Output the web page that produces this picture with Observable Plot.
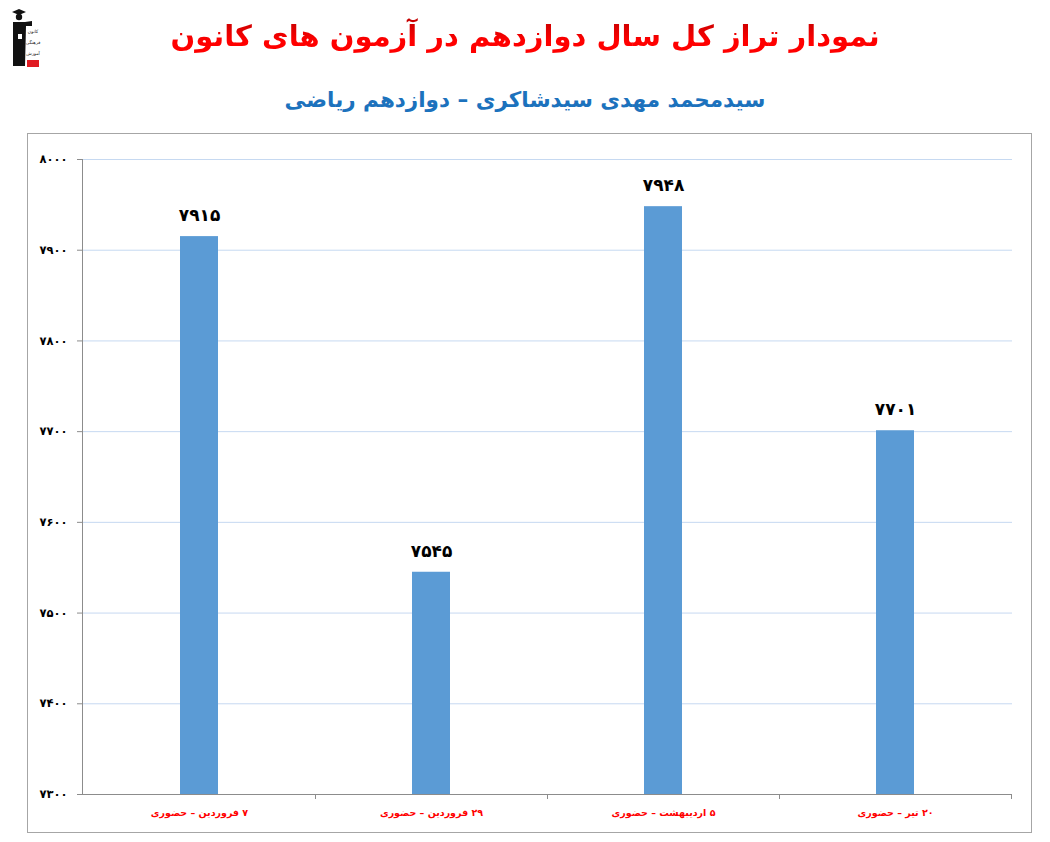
<!DOCTYPE html>
<html><head><meta charset="utf-8">
<script src="https://cdn.jsdelivr.net/npm/d3@7"></script>
<script src="https://cdn.jsdelivr.net/npm/@observablehq/plot@0.6"></script>
<style>
html,body{margin:0;padding:0;background:#fff;}
body{width:1050px;height:842px;position:relative;overflow:hidden;font-family:"DejaVu Sans",sans-serif;}
#title{position:absolute;left:0;top:12px;width:1050px;text-align:center;font-weight:bold;font-size:29px;line-height:48px;
  background:linear-gradient(#b00000,#ff0000 60%);-webkit-background-clip:text;background-clip:text;color:transparent;}
#subtitle{position:absolute;left:0;top:82px;width:1050px;text-align:center;font-weight:bold;font-size:21.5px;line-height:36px;color:#1c72bd;}
#frame{position:absolute;left:27px;top:133px;width:1003px;height:698px;border:1.5px solid #a6a6a6;}
#frame svg{position:absolute;left:0;top:0;}
#logo{position:absolute;left:10px;top:4px;overflow:visible;}
</style></head>
<body>
<svg id="logo" width="44" height="68" viewBox="0 0 44 68">
  <polygon points="2,8 9,5 16,8 9,11" fill="#111"/>
  <circle cx="9" cy="13" r="3.2" fill="#111"/>
  <path d="M3,18 L15,18 L22,17 L22,22 L16,22 L15,62 L3,62 Z" fill="#111"/>
  <rect x="8" y="30" width="4" height="5" fill="#fff"/>
  <text x="23" y="29" font-size="4.5" text-anchor="middle" fill="#222" font-family="DejaVu Sans">کانون</text>
  <text x="23" y="40" font-size="4.5" text-anchor="middle" fill="#222" font-family="DejaVu Sans">فرهنگی</text>
  <text x="23" y="51" font-size="4.5" text-anchor="middle" fill="#222" font-family="DejaVu Sans">آموزش</text>
  <rect x="17" y="56" width="12" height="7" fill="#e01b22"/>
</svg>
<div id="title" dir="rtl">نمودار تراز کل سال دوازدهم در آزمون های کانون</div>
<div id="subtitle" dir="rtl">سیدمحمد مهدی سیدشاکری – دوازدهم ریاضی</div>
<div id="frame"></div>
<script>
const categories = ["۷ فروردین – حضوری", "۲۹ فروردین – حضوری", "۵ اردیبهشت – حضوری", "۲۰ تیر – حضوری"];
const values = [7915, 7545, 7948, 7701];
const yTicks = [7300, 7400, 7500, 7600, 7700, 7800, 7900, 8000];

const faDigits = "۰۱۲۳۴۵۶۷۸۹";
const toFa = n => String(n).replace(/\d/g, d => faDigits[+d]);
const rtl = s => "\u202B" + s + "\u202C";
const data = categories.map((c, i) => ({cat: c, val: values[i]}));
const padInner = 0.837;

function bandTicks(index, scales, values, dimensions) {
  const {x, y} = scales;
  const step = x(categories[1]) - x(categories[0]);
  const bw = step * (1 - padInner);
  const g = d3.create("svg:g").attr("stroke", "#8c8c8c").attr("stroke-width", 1);
  g.append("line").attr("x1", dimensions.marginLeft + 0.5).attr("x2", dimensions.marginLeft + 0.5)
    .attr("y1", y(yTicks[yTicks.length - 1])).attr("y2", y(yTicks[0]));
  categories.forEach(c => {
    const xb = Math.round(x(c) + bw / 2 + step / 2) + 0.5;
    g.append("line").attr("x1", xb).attr("x2", xb).attr("y1", y(yTicks[0])).attr("y2", y(yTicks[0]) + 5);
  });
  return g.node();
}

const chart = Plot.plot({
  width: 1003, height: 698,
  marginLeft: 54, marginRight: 19, marginTop: 25, marginBottom: 38,
  style: {fontFamily: "DejaVu Sans", background: "transparent", overflow: "visible"},
  x: {domain: categories, paddingInner: padInner, paddingOuter: padInner / 2, axis: null, label: null},
  y: {domain: [yTicks[0], yTicks[yTicks.length - 1]], axis: null, label: null},
  marks: [
    Plot.gridY(yTicks.slice(1), {stroke: "#c6d9f1", strokeOpacity: 1}),
    Plot.ruleY([yTicks[0]], {stroke: "#8c8c8c"}),
    Plot.axisY(yTicks, {tickFormat: toFa, tickSize: 5, tickPadding: 10, fontSize: 11.5, fontWeight: "bold", stroke: "#8c8c8c", fill: "#000", label: null}),
    Plot.barY(data, {x: "cat", y1: yTicks[0], y2: "val", fill: "#5b9bd5"}),
    Plot.text(data, {x: "cat", y: "val", text: d => toFa(d.val), dy: -21, fontSize: 17, fontWeight: "bold", fill: "#000"}),
    Plot.text(categories, {x: d => d, y: yTicks[0], text: d => rtl(d), dy: 18, fontSize: 9.5, fontWeight: "bold", fill: "#ff0000"}),
    bandTicks
  ]
});
document.getElementById("frame").appendChild(chart);
</script>
</body></html>
